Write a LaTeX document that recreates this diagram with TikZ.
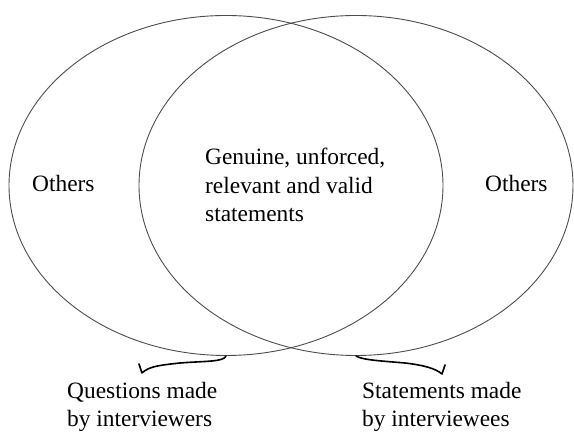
\documentclass[tikz,border=0pt]{standalone}
\usepackage{fontspec}
\setmainfont{Liberation Serif}
\usetikzlibrary{shapes.geometric}
\begin{document}
\begin{tikzpicture}[x=1pt,y=-1pt,
  setell/.style={ellipse,draw=black!70,line width=0.9pt,inner sep=0pt,
    minimum width=434pt,minimum height=340pt},
  lbl/.style={inner sep=0pt,anchor=base west,align=left,
    font=\fontsize{23.4}{28.5}\selectfont},
  bracepath/.style={draw=black,line width=1.6pt,line cap=round,line join=round}]
\useasboundingbox (0,0) rectangle (574,435);
\node[setell] (L) at (226,185.5) {};
\node[setell] (R) at (356,185.5) {};
\node[lbl] (oL) at (32,192) {Others};
\node[lbl] (oR) at (485,192) {Others};
\node[lbl] (mid) at (205,222) {Genuine, unforced,\\relevant and valid\\statements};
\node[lbl] (q) at (67,427) {Questions made\\by interviewers};
\node[lbl] (s) at (362,427) {Statements made\\by interviewees};
\coordinate (bl) at (142,373);
\coordinate (br) at (442,374);
\draw[bracepath] (L.south) .. controls (224,362) and (205,361) .. (180,363)
  .. controls (162,365) and (149,366) .. (bl) -- (139,364);
\draw[bracepath] (R.south) .. controls (362,360) and (382,361) .. (405,363)
  .. controls (422,365) and (435,368) .. (br) -- (445,365);
\end{tikzpicture}
\end{document}
